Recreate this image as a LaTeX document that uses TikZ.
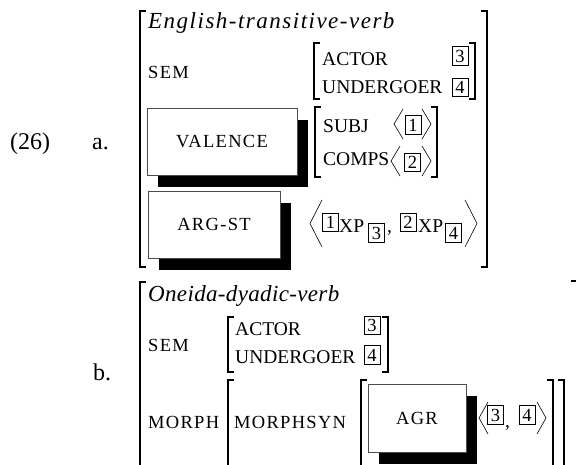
\documentclass[tikz,border=0pt]{standalone}
\usepackage{fontspec}
\setmainfont{Liberation Serif}
\newfontfamily\attrfont[LetterSpace=7]{Liberation Serif}
\newfontfamily\typwide[LetterSpace=6.5]{Liberation Serif}
\newfontfamily\typnarrow[LetterSpace=1.5]{Liberation Serif}
\usetikzlibrary{positioning,shadows}

% square brackets: x, top, bottom
\newcommand{\lbrk}[3]{\draw[brk] (#1+6,#2) -- (#1,#2) -- (#1,#3) -- (#1+6,#3);}
\newcommand{\rbrk}[3]{\draw[brk] (#1-6,#2) -- (#1,#2) -- (#1,#3) -- (#1-6,#3);}
% angle brackets: tip x, middle y, half height, width
\newcommand{\lang}[4]{\draw[ang] (#1+#4,#2-#3) -- (#1,#2) -- (#1+#4,#2+#3);}
\newcommand{\rang}[4]{\draw[ang] (#1-#4,#2-#3) -- (#1,#2) -- (#1-#4,#2+#3);}

\begin{document}
\begin{tikzpicture}[
    x=1pt, y=-1pt,
    txt/.style={inner sep=0, anchor=base west},
    num/.style={txt, font=\fontsize{24}{24}\selectfont},
    typ/.style={txt, font=\fontsize{23}{23}\selectfont\itshape},
    attr/.style={txt, font=\attrfont\fontsize{18.5}{18.5}\selectfont},
    lbl/.style={txt, font=\fontsize{19.5}{19.5}\selectfont},
    tag/.style={draw, line width=0.6pt, inner sep=0, minimum width=16pt,
      minimum height=18.5pt, font=\fontsize{18.5}{18.5}\selectfont},
    featbox/.style={draw=black!70, fill=white, line width=0.8pt, inner sep=0,
      font=\attrfont\fontsize{18.5}{18.5}\selectfont,
      drop shadow={shadow xshift=11pt, shadow yshift=-11.5pt, fill=black, opacity=1}},
    brk/.style={line width=1.2pt},
    ang/.style={line width=0.6pt}
  ]
  \useasboundingbox (0,0) rectangle (576,464);

  % (26) a.
  \node[num] (ex) at (10,149) {(26)};
  \node[num] (la) at (92,149) {a.};
  \lbrk{140}{11}{267} \rbrk{487}{11}{267}
  \node[typ] (ta) at (148,28) {\typwide English-transitive-verb};

  \node[attr] (sema) at (148,78) {SEM};
  \lbrk{314}{43}{99} \rbrk{475}{43}{99}
  \node[lbl] (acta) at (322,65) {ACTOR};
  \node[lbl] (unda) at (322,93) {UNDERGOER};
  \node[tag] (a3) at (460,56) {3};
  \node[tag] (a4) at (460,87.5) {4};

  \node[featbox, minimum width=150pt, minimum height=67pt] (val) at (222,141.5) {VALENCE};
  \lbrk{315}{107}{177} \rbrk{437}{107}{177}
  \node[lbl] (subj) at (323,132) {SUBJ};
  \lang{394}{124}{15}{9} \rang{431}{124}{15}{9}
  \node[tag] (s1) at (413,125) {1};
  \node[lbl] (comps) at (323,165) {COMPS};
  \lang{391}{161}{15}{9} \rang{431}{161}{15}{9}
  \node[tag] (c2) at (412.5,162.5) {2};

  \node[featbox, minimum width=132pt, minimum height=67pt] (argst) at (214,224.5) {ARG-ST};
  \lang{310}{223.5}{23.5}{12} \rang{477}{223.5}{23.5}{12}
  \node[tag] (r1) at (330.5,222.5) {1};
  \node[lbl] (xp1) at (339,232) {XP};
  \node[tag] (r3) at (376.5,233) {3};
  \node[lbl] (cm1) at (387,232) {,};
  \node[tag] (r2) at (408,222.5) {2};
  \node[lbl] (xp2) at (418,232) {XP};
  \node[tag] (r4) at (453.5,233) {4};

  % b.
  \node[num] (lb) at (93,380) {b.};
  \lbrk{140}{282}{520} \rbrk{577}{281}{520}
  \node[typ] (tb) at (148,301) {\typnarrow Oneida-dyadic-verb};

  \node[attr] (semb) at (148,351) {SEM};
  \lbrk{228}{317}{372} \rbrk{388}{317}{372}
  \node[lbl] (actb) at (235,335) {ACTOR};
  \node[lbl] (undb) at (235,363) {UNDERGOER};
  \node[tag] (b3) at (372,325.5) {3};
  \node[tag] (b4) at (372,355) {4};

  \node[attr] (morph) at (148,428) {MORPH};
  \lbrk{228}{380}{520} \rbrk{564}{380}{520}
  \node[attr] (msyn) at (234,428) {MORPHSYN};
  \lbrk{361}{380}{520} \rbrk{553}{380}{520}
  \node[featbox, minimum width=98pt, minimum height=68pt] (agr) at (417,418) {AGR};
  \lang{479}{418}{16}{9} \rang{546}{418}{16}{9}
  \node[tag] (g3) at (495.5,415) {3};
  \node[lbl] (cm2) at (505,427) {,};
  \node[tag] (g4) at (527,415) {4};
\end{tikzpicture}
\end{document}
